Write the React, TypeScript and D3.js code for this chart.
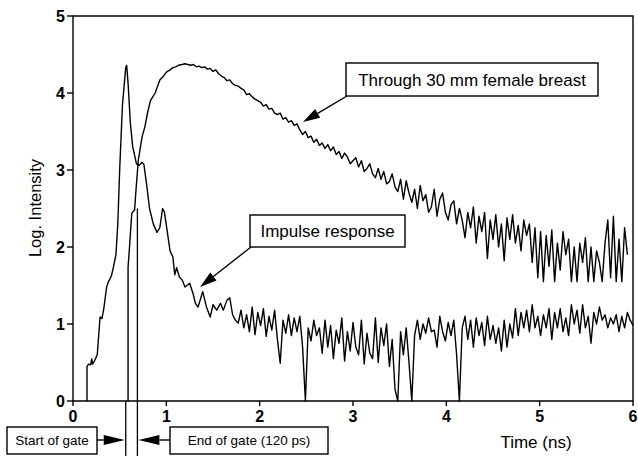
import React from "react";
import * as d3 from "d3";

// ---------- DATA ----------
const xTicks = [0, 1, 2, 3, 4, 5, 6];
const yTicks = [0, 1, 2, 3, 4, 5];

// Impulse response: rising edge + peaks (time ns, log intensity)
const impulseHead: [number, number][] = [
  [0.15, 0], [0.15, 0.45], [0.17, 0.48], [0.19, 0.47], [0.2, 0.55], [0.21, 0.48], [0.23, 0.52],
  [0.26, 0.6], [0.29, 1.09], [0.31, 1.07], [0.33, 1.2], [0.36, 1.48], [0.38, 1.55], [0.41, 1.62],
  [0.43, 1.72], [0.46, 1.9], [0.48, 2.3], [0.5, 3.0], [0.53, 3.85], [0.565, 4.33], [0.575, 4.36],
  [0.59, 4.13], [0.615, 3.6], [0.64, 3.3], [0.68, 3.08], [0.71, 3.06], [0.74, 3.1], [0.76, 3.07],
  [0.79, 2.8], [0.82, 2.5], [0.86, 2.3], [0.9, 2.19], [0.93, 2.25], [0.96, 2.5], [0.98, 2.45],
  [1.01, 2.2], [1.04, 1.95], [1.07, 1.87], [1.09, 1.64], [1.11, 1.73], [1.14, 1.61], [1.17, 1.57],
  [1.2, 1.48], [1.25, 1.53], [1.29, 1.38], [1.31, 1.27], [1.34, 1.22], [1.39, 1.42], [1.43, 1.22],
  [1.47, 1.09], [1.5, 1.25], [1.54, 1.18], [1.58, 1.27], [1.61, 1.18], [1.65, 1.31], [1.68, 1.34],
  [1.71, 1.12],
];
// Impulse response noisy tail, sampled every 0.03 ns from 1.74 ns
const impulseTailStart = 1.74;
const impulseTailStep = 0.03;
const impulseTail = [
  1.05, 1.01, 1.18, 0.95, 1.12, 0.9, 1.22, 0.86, 1.15, 0.98,
  1.2, 0.84, 1.1, 0.92, 1.18, 0.8, 0.49, 1.05, 0.88, 1.12,
  0.85, 1.08, 0.9, 1.1, 0.7, 0.0, 0.95, 0.78, 1.05, 0.85,
  0.95, 0.62, 1.05, 0.7, 0.98, 0.55, 0.92, 0.75, 1.08, 0.52,
  0.9, 0.65, 1.02, 0.7, 0.6, 1.05, 0.48, 0.88, 0.62, 0.55,
  1.08, 0.5, 0.95, 0.72, 1.0, 0.45, 0.8, 0.15, 0.0, 0.9,
  0.6, 0.95, 0.5, 0.0, 0.85, 1.05, 0.8, 1.0, 0.88, 1.08,
  0.9, 0.92, 0.7, 1.1, 0.9, 0.78, 1.02, 0.85, 1.05, 0.6,
  0.0, 0.95, 1.1, 0.8, 1.05, 0.7, 1.08, 0.85, 1.02, 0.72,
  1.1, 0.8, 0.98, 0.75, 0.95, 0.65, 1.05, 0.7, 1.0, 0.82,
  1.2, 0.85, 1.15, 0.95, 1.18, 0.9, 1.25, 0.95, 1.1, 0.85,
  1.12, 0.95, 1.2, 0.8, 1.15, 0.95, 1.2, 0.9, 1.08, 0.85,
  1.25, 1.0, 1.18, 0.88, 1.25, 0.95, 1.1, 0.75, 1.15, 1.0,
  1.22, 1.05, 1.12, 0.95, 1.08, 1.0, 1.12, 0.9, 1.1, 0.95,
  1.15, 1.05, 0.98,
];

// Through 30 mm female breast: rising edge and peak
const breastHead: [number, number][] = [
  [0.59, 0], [0.59, 1.74], [0.605, 1.99], [0.63, 2.44], [0.66, 2.48], [0.675, 2.74],
  [0.7, 3.13], [0.74, 3.43], [0.77, 3.56], [0.8, 3.75], [0.83, 3.9], [0.88, 4.0],
  [0.93, 4.17], [0.97, 4.22], [1.0, 4.27], [1.04, 4.3], [1.07, 4.33], [1.1, 4.34],
  [1.13, 4.36], [1.17, 4.37], [1.2, 4.38],
];
// Breast tail, sampled every 0.03 ns from 1.23 ns
const breastTailStart = 1.23;
const breastTailStep = 0.03;
const breastTail = [
  4.37, 4.36, 4.37, 4.34, 4.35, 4.33, 4.34, 4.31, 4.32, 4.28,
  4.3, 4.25, 4.22, 4.2, 4.16, 4.17, 4.12, 4.1, 4.09, 4.06,
  4.04, 3.98, 3.99, 3.95, 3.92, 3.9, 3.88, 3.83, 3.85, 3.79,
  3.8, 3.74, 3.72, 3.74, 3.66, 3.68, 3.62, 3.64, 3.58, 3.6,
  3.52, 3.46, 3.5, 3.42, 3.44, 3.36, 3.4, 3.32, 3.35, 3.28,
  3.33, 3.25, 3.3, 3.2, 3.24, 3.15, 3.22, 3.17, 3.08, 3.12,
  3.16, 3.04, 3.12, 2.98, 3.02, 3.08, 2.95, 2.9, 3.02, 2.88,
  2.98, 2.82, 2.85, 2.95, 2.78, 2.72, 2.88, 2.62, 2.86, 2.7,
  2.58, 2.75, 2.5, 2.8, 2.6, 2.68, 2.45, 2.52, 2.75, 2.4,
  2.62, 2.7, 2.45, 2.35, 2.55, 2.6, 2.3, 2.5, 2.35, 2.12,
  2.45, 2.25, 2.52, 2.05, 2.4, 2.2, 2.45, 1.85, 2.35, 2.1,
  2.42, 2.0, 2.3, 1.82, 2.38, 2.1, 2.42, 2.05, 2.28, 1.95,
  2.35, 2.15, 2.3, 1.8, 2.25, 1.6, 2.2, 1.55, 2.15, 1.75,
  2.22, 1.55, 2.05, 1.7, 2.2, 1.9, 2.1, 1.55, 2.0, 1.55,
  2.05, 1.8, 2.12, 1.55, 2.0, 1.55, 1.95, 1.8, 1.55, 2.05,
  2.35, 1.6, 2.4, 1.55, 2.1, 1.55, 2.25, 1.9,
];

// Gate positions (ns) and labels
const gateStart = 0.565;
const gateEnd = 0.69;
const gateEndTop = 2.5;
const labelBreast = "Through 30 mm female breast";
const labelImpulse = "Impulse response";
const labelStart = "Start of gate";
const labelEnd = "End of gate (120 ps)";
const xTitle = "Time (ns)";
const yTitle = "Log. Intensity";

// ---------- CHART ----------
const W = 638;
const H = 456;
const FONT = "'Liberation Sans', Arial, Helvetica, sans-serif";

function buildSeries(head: [number, number][], start: number, step: number, tail: number[]) {
  const pts: [number, number][] = head.slice();
  tail.forEach((v, i) => {
    const t = start + i * step;
    if (t <= 6.0001) pts.push([t, v]);
  });
  return pts;
}

function Arrow({ x1, y1, x2, y2, len = 17, half = 5 }: { x1: number; y1: number; x2: number; y2: number; len?: number; half?: number }) {
  const dx = x2 - x1;
  const dy = y2 - y1;
  const d = Math.sqrt(dx * dx + dy * dy);
  const ux = dx / d;
  const uy = dy / d;
  const bx = x2 - ux * len;
  const by = y2 - uy * len;
  const px = -uy * half;
  const py = ux * half;
  return (
    <g>
      <line x1={x1} y1={y1} x2={bx} y2={by} stroke="#000" strokeWidth={1.4} />
      <path d={`M${x2},${y2}L${bx + px},${by + py}L${bx - px},${by - py}Z`} fill="#000" />
    </g>
  );
}

export default function App() {
  const x = d3.scaleLinear().domain([0, 6]).range([73, 633]);
  const y = d3.scaleLinear().domain([0, 5]).range([401, 16]);
  const line = d3
    .line<[number, number]>()
    .x((d) => x(d[0]))
    .y((d) => y(d[1]));

  const impulse = buildSeries(impulseHead, impulseTailStart, impulseTailStep, impulseTail);
  const breast = buildSeries(breastHead, breastTailStart, breastTailStep, breastTail);

  const x0 = x(0);
  const x6 = x(6);
  const y0 = y(0);
  const y5 = y(5);

  return (
    <svg
      width={W}
      height={H}
      style={{ position: "absolute", left: 0, top: 0, background: "#fff" }}
      fontFamily={FONT}
    >
      <rect x={0} y={0} width={W} height={H} fill="#fff" />
      {/* frame */}
      <path d={`M${x0},${y0}L${x0},${y5}L${x6},${y5}L${x6},${y0}Z`} fill="none" stroke="#000" strokeWidth={1.4} />
      {/* y ticks */}
      {yTicks.map((t) => (
        <g key={"y" + t}>
          <line x1={x0 - 6} x2={x0} y1={y(t)} y2={y(t)} stroke="#000" strokeWidth={1.4} />
          <text x={x0 - 8} y={y(t)} dy="0.36em" textAnchor="end" fontSize={16} fontWeight="bold">
            {t}
          </text>
        </g>
      ))}
      {/* x ticks */}
      {xTicks.map((t) => (
        <g key={"x" + t}>
          <line x1={x(t)} x2={x(t)} y1={y0} y2={y0 + 5} stroke="#000" strokeWidth={1.4} />
          <text x={x(t)} y={y0 + 21} textAnchor="middle" fontSize={16} fontWeight="bold">
            {t}
          </text>
        </g>
      ))}
      {/* axis titles */}
      <text transform={`translate(41,208) rotate(-90)`} textAnchor="middle" fontSize={16.5}>
        {yTitle}
      </text>
      <text x={536} y={448} textAnchor="middle" fontSize={17}>
        {xTitle}
      </text>

      {/* curves */}
      <path d={line(impulse) || ""} fill="none" stroke="#000" strokeWidth={1.4} strokeLinejoin="round" />
      <path d={line(breast) || ""} fill="none" stroke="#000" strokeWidth={1.4} strokeLinejoin="round" />

      {/* gate lines */}
      <line x1={x(gateStart)} x2={x(gateStart)} y1={y0} y2={H} stroke="#000" strokeWidth={1.3} />
      <line x1={x(gateEnd)} x2={x(gateEnd)} y1={y(gateEndTop)} y2={H} stroke="#000" strokeWidth={1.3} />

      {/* breast annotation */}
      <rect x={346} y={63} width={252} height={33} fill="#fff" stroke="#000" strokeWidth={1.4} />
      <text x={472} y={85.5} textAnchor="middle" fontSize={17}>
        {labelBreast}
      </text>
      <Arrow x1={347} y1={96} x2={303} y2={122} />

      {/* impulse annotation */}
      <rect x={250} y={215} width={155} height={32} fill="#fff" stroke="#000" strokeWidth={1.4} />
      <text x={327.5} y={237} textAnchor="middle" fontSize={17}>
        {labelImpulse}
      </text>
      <Arrow x1={251} y1={247} x2={200} y2={287} />

      {/* gate annotations */}
      <rect x={7} y={427} width={90} height={27} fill="#fff" stroke="#000" strokeWidth={1.4} />
      <text x={52} y={445} textAnchor="middle" fontSize={13.5}>
        {labelStart}
      </text>
      <Arrow x1={97} y1={440} x2={x(gateStart) - 1} y2={440} len={21} half={5} />

      <rect x={170} y={427} width={158} height={27} fill="#fff" stroke="#000" strokeWidth={1.4} />
      <text x={249} y={445} textAnchor="middle" fontSize={13.5}>
        {labelEnd}
      </text>
      <Arrow x1={170} y1={440} x2={x(gateEnd) + 1} y2={440} len={21} half={5} />
    </svg>
  );
}
